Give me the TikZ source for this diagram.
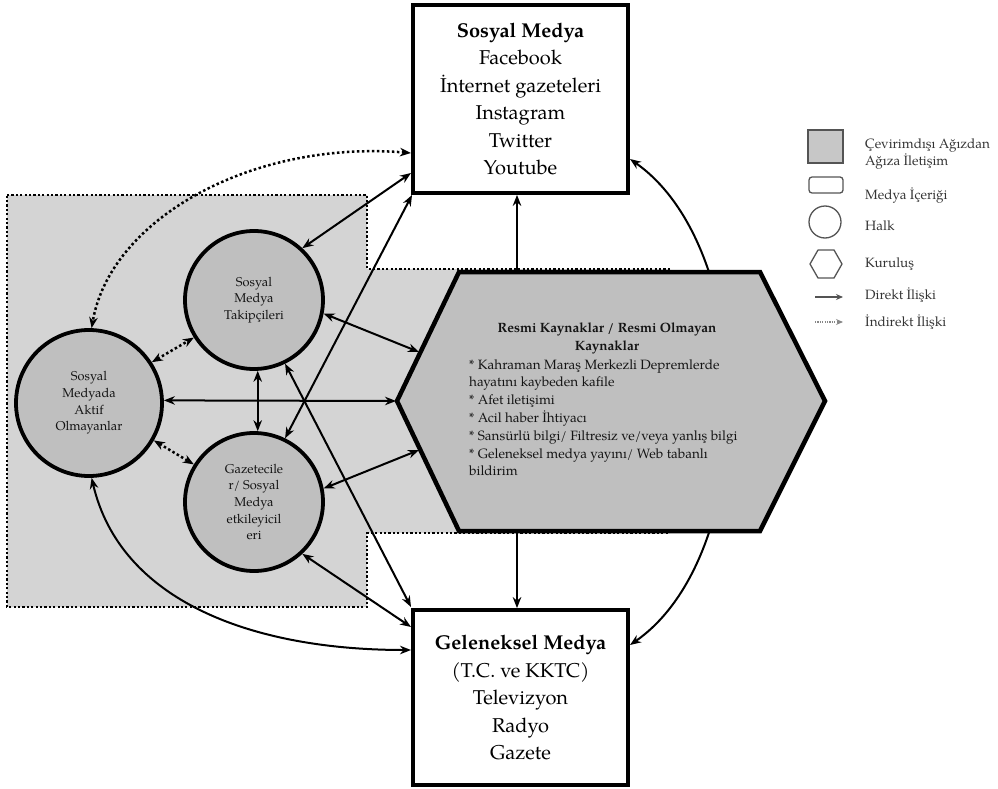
\documentclass[tikz,border=0pt]{standalone}
\usepackage{fontspec}
\setmainfont{texgyrepagella}[Extension=.otf,UprightFont=*-regular,BoldFont=*-bold,ItalicFont=*-italic,BoldItalicFont=*-bolditalic]
\usetikzlibrary{arrows.meta}
\definecolor{regiongray}{gray}{0.83}
\definecolor{nodegray}{gray}{0.75}
\definecolor{leggray}{gray}{0.33}
\definecolor{legfill}{gray}{0.78}
\begin{document}
\begin{tikzpicture}[x=1pt,y=-1pt,
  >={Stealth[length=11pt,width=8.5pt]},
  conn/.style={<->, line width=2pt},
  dconn/.style={<->, line width=2.5pt, dash pattern=on 2.5pt off 2.5pt},
  onew/.style={->, line width=2pt},
  mediabox/.style={draw, line width=3.8pt, fill=white, align=center, inner sep=0pt,
    font=\fontsize{20}{27.5}\selectfont},
  halk/.style={circle, draw, line width=3.8pt, fill=nodegray, align=center, inner sep=0pt,
    font=\fontsize{12.8}{16.7}\selectfont, text=black!92},
  hexfont/.style={inner sep=0pt, font=\fontsize{13.5}{17.8}\selectfont, text=black!92},
  legtext/.style={anchor=west, inner sep=0pt, font=\fontsize{13.5}{17}\selectfont, text=black!80, align=left},
  legshape/.style={draw=leggray, line width=1.3pt},
  regionline/.style={line width=2.2pt, dash pattern=on 2.2pt off 2.2pt}
]
\path[use as bounding box] (0,0) rectangle (998,789);

% grey offline word-of-mouth region
\draw[regionline, fill=regiongray] (7,195) -- (367,195) -- (367,269) -- (670,269)
  -- (670,533) -- (367,533) -- (367,607) -- (7,607) -- cycle;

% media boxes
\node[mediabox, minimum width=215pt, minimum height=188pt] (topbox) at (520.5,99)
  {{\bfseries Sosyal Medya}\\ Facebook\\ İnternet gazeteleri\\ Instagram\\ Twitter\\ Youtube};
\node[mediabox, minimum width=215pt, minimum height=175pt] (botbox) at (520.5,697.5)
  {{\bfseries Geleneksel Medya}\\ (T.C. ve KKTC)\\ Televizyon\\ Radyo\\ Gazete};

% big arc behind the hexagon
\coordinate (ar1) at (630,159);
\coordinate (ar2) at (630,645);
\draw[conn] (ar1) .. controls (760,250) and (760,555) .. (ar2);

% hexagon (institution)
\coordinate (hL) at (396,401);
\coordinate (hA) at (419,352);
\coordinate (hB) at (419,450);
\coordinate (hTop) at (517,272);
\coordinate (hBot) at (517,531);
\draw[line width=4.5pt, fill=nodegray, line join=miter] (397,401) -- (459,272) -- (760,272)
  -- (825,401) -- (760,531) -- (459,531) -- cycle;
\node[hexfont, font=\fontsize{13.5}{17.8}\selectfont\bfseries, align=center] (hextitle) at (607,338.5)
  {Resmi Kaynaklar / Resmi Olmayan\\ Kaynaklar};
\node[hexfont, anchor=north west, align=left] (hexbody) at (469,359)
  {* Kahraman Maraş Merkezli Depremlerde\\
   hayatını kaybeden kafile\\
   * Afet iletişimi\\
   * Acil haber İhtiyacı\\
   * Sansürlü bilgi/ Filtresiz ve/veya yanlış bilgi\\
   * Geleneksel medya yayını/ Web tabanlı\\
   bildirim};

% public circles
\node[halk, minimum size=138pt] (takip) at (254,300) {Sosyal\\ Medya\\ Takipçileri};
\node[halk, minimum size=146pt] (aktif) at (89,403) {Sosyal\\ Medyada\\ Aktif\\ Olmayanlar};
\node[halk, minimum size=138pt] (gazete) at (254,502) {Gazetecile\\ r/ Sosyal\\ Medya\\ etkileyicil\\ eri};

% end points on the boxes
\coordinate (tb1) at (411,153);
\coordinate (tb2) at (411,173);
\coordinate (tb3) at (412,195);
\coordinate (bb1) at (411,607);
\coordinate (bb2) at (411,627);
\coordinate (bb3) at (411,650);

% connectors
\draw[dconn] (tb1) .. controls (250,140) and (110,220) .. (aktif.88);
\draw[conn] (takip.47) -- (tb2);
\draw[conn] (gazete.64) -- (tb3);
\draw[dconn] (aktif.33) -- (takip.212);
\draw[dconn] (aktif.330) -- (gazete.148);
\draw[conn] (takip.273) -- (gazete.87);
\draw[conn] (aktif.2) -- (hL);
\draw[conn] (takip.349) -- (hA);
\draw[conn] (gazete.11) -- (hB);
\draw[conn] (takip.296) -- (bb1);
\draw[conn] (gazete.313) -- (bb2);
\draw[conn] (aktif.272) .. controls (120,600) and (250,650) .. (bb3);
\draw[onew] (hTop) -- (hTop |- topbox.south);
\draw[onew] (hBot) -- (hBot |- botbox.north);

% legend
\node[legshape, fill=legfill, minimum width=35pt, minimum height=33pt, inner sep=0pt] (lgsq) at (825.5,146.5) {};
\node[legshape, rounded corners=3pt, minimum width=34pt, minimum height=16pt, inner sep=0pt] (lgrect) at (826,185) {};
\node[legshape, circle, minimum size=32pt, inner sep=0pt] (lgcirc) at (825,222) {};
\draw[legshape, line join=round] (810,264) -- (818,250) -- (834,250) -- (842,264) -- (834,278) -- (818,278) -- cycle;
\coordinate (la1) at (815,297);
\coordinate (la2) at (843,297);
\coordinate (lb1) at (815,322);
\coordinate (lb2) at (843,322);
\draw[->, draw=leggray, line width=1.6pt, >={Stealth[length=7pt,width=6pt]}] (la1) -- (la2);
\draw[->, draw=leggray!70, line width=1.6pt, dash pattern=on 1.2pt off 1.2pt, >={Stealth[length=7pt,width=6pt]}] (lb1) -- (lb2);
\node[legtext] (lt1) at (865,154) {Çevirimdışı Ağızdan\\ Ağıza İletişim};
\node[legtext] (lt2) at (865,196) {Medya İçeriği};
\node[legtext] (lt3) at (865,226) {Halk};
\node[legtext] (lt4) at (865,264) {Kuruluş};
\node[legtext] (lt5) at (865,295) {Direkt İlişki};
\node[legtext] (lt6) at (865,322) {İndirekt İlişki};
\end{tikzpicture}
\end{document}
